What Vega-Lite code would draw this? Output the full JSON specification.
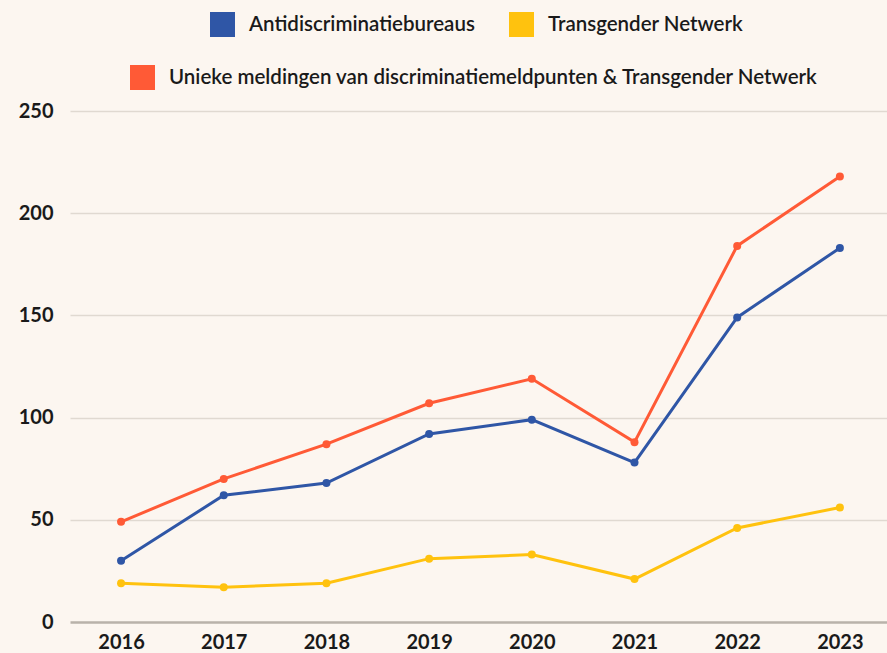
{
  "$schema": "https://vega.github.io/schema/vega-lite/v6.json",
  "width": 817,
  "height": 511,
  "autosize": {"type": "none"},
  "padding": {"left": 70, "top": 111, "right": 0, "bottom": 31},
  "background": "#fcf6f0",
  "config": {
    "view": {"stroke": null},
    "font": "Lato"
  },
  "data": {
    "values": [
      {"year": "2016", "series": "Antidiscriminatiebureaus", "value": 30},
      {"year": "2017", "series": "Antidiscriminatiebureaus", "value": 62},
      {"year": "2018", "series": "Antidiscriminatiebureaus", "value": 68},
      {"year": "2019", "series": "Antidiscriminatiebureaus", "value": 92},
      {"year": "2020", "series": "Antidiscriminatiebureaus", "value": 99},
      {"year": "2021", "series": "Antidiscriminatiebureaus", "value": 78},
      {"year": "2022", "series": "Antidiscriminatiebureaus", "value": 149},
      {"year": "2023", "series": "Antidiscriminatiebureaus", "value": 183},
      {"year": "2016", "series": "Transgender Netwerk", "value": 19},
      {"year": "2017", "series": "Transgender Netwerk", "value": 17},
      {"year": "2018", "series": "Transgender Netwerk", "value": 19},
      {"year": "2019", "series": "Transgender Netwerk", "value": 31},
      {"year": "2020", "series": "Transgender Netwerk", "value": 33},
      {"year": "2021", "series": "Transgender Netwerk", "value": 21},
      {"year": "2022", "series": "Transgender Netwerk", "value": 46},
      {"year": "2023", "series": "Transgender Netwerk", "value": 56},
      {"year": "2016", "series": "Unieke meldingen van discriminatiemeldpunten & Transgender Netwerk", "value": 49},
      {"year": "2017", "series": "Unieke meldingen van discriminatiemeldpunten & Transgender Netwerk", "value": 70},
      {"year": "2018", "series": "Unieke meldingen van discriminatiemeldpunten & Transgender Netwerk", "value": 87},
      {"year": "2019", "series": "Unieke meldingen van discriminatiemeldpunten & Transgender Netwerk", "value": 107},
      {"year": "2020", "series": "Unieke meldingen van discriminatiemeldpunten & Transgender Netwerk", "value": 119},
      {"year": "2021", "series": "Unieke meldingen van discriminatiemeldpunten & Transgender Netwerk", "value": 88},
      {"year": "2022", "series": "Unieke meldingen van discriminatiemeldpunten & Transgender Netwerk", "value": 184},
      {"year": "2023", "series": "Unieke meldingen van discriminatiemeldpunten & Transgender Netwerk", "value": 218}
    ]
  },
  "encoding": {
    "x": {
      "field": "year",
      "type": "ordinal",
      "scale": {"type": "point", "padding": 0.478, "align": 0.52},
      "axis": {
        "title": null,
        "labelAngle": 0,
        "domain": false,
        "ticks": false,
        "grid": false,
        "labelPadding": 10,
        "labelFontSize": 20,
        "labelFontWeight": "bold",
        "labelColor": "#1a1a1a",
        "labelFont": "Lato"
      }
    },
    "y": {
      "field": "value",
      "type": "quantitative",
      "scale": {"domain": [0, 250], "nice": false},
      "axis": {
        "title": null,
        "values": [0, 50, 100, 150, 200, 250],
        "domain": false,
        "ticks": false,
        "labelPadding": 17,
        "labelFontSize": 20,
        "labelFontWeight": "bold",
        "labelColor": "#1a1a1a",
        "labelFont": "Lato",
        "gridColor": {"condition": {"test": "datum.value === 0", "value": "#b9b2aa"}, "value": "#e0d9d1"},
        "gridWidth": {"condition": {"test": "datum.value === 0", "value": 2.5}, "value": 1.5}
      }
    }
  },
  "layer": [
    {
      "transform": [{"filter": "datum.series !== 'Unieke meldingen van discriminatiemeldpunten & Transgender Netwerk'"}],
      "encoding": {
        "color": {
          "field": "series",
          "type": "nominal",
          "scale": {"domain": ["Antidiscriminatiebureaus", "Transgender Netwerk"], "range": ["#2f56a6", "#ffc20e"]},
          "legend": {
            "orient": "none",
            "legendX": 140,
            "legendY": -99,
            "direction": "horizontal",
            "title": null,
            "padding": 0,
            "symbolType": "square",
            "symbolSize": 625,
            "symbolStrokeWidth": 0,
            "symbolOpacity": 1,
            "labelFontSize": 20.5,
            "labelOffset": 14,
            "columnPadding": 34,
            "labelFont": "Lato",
            "labelFontWeight": 600,
            "labelColor": "#1a1a1a",
            "labelLimit": 900,
            "encode": {
              "symbols": {
                "update": {
                  "fill": [{"test": "datum.value === 'Antidiscriminatiebureaus'", "value": "#2f56a6"}, {"value": "#ffc20e"}]
                }
              }
            }
          }
        }
      },
      "layer": [
        {"mark": {"type": "line", "strokeWidth": 3}},
        {"mark": {"type": "point", "filled": true, "size": 64, "opacity": 1}}
      ]
    },
    {
      "transform": [{"filter": "datum.series === 'Unieke meldingen van discriminatiemeldpunten & Transgender Netwerk'"}],
      "encoding": {
        "color": {
          "field": "series",
          "type": "nominal",
          "scale": {"domain": ["Unieke meldingen van discriminatiemeldpunten & Transgender Netwerk"], "range": ["#ff5a36"]},
          "legend": {
            "orient": "none",
            "legendX": 60,
            "legendY": -46,
            "direction": "horizontal",
            "title": null,
            "padding": 0,
            "symbolType": "square",
            "symbolSize": 625,
            "symbolStrokeWidth": 0,
            "symbolOpacity": 1,
            "labelFontSize": 20.5,
            "labelOffset": 14,
            "labelFont": "Lato",
            "labelFontWeight": 600,
            "labelColor": "#1a1a1a",
            "labelLimit": 900,
            "encode": {
              "symbols": {
                "update": {
                  "fill": {"value": "#ff5a36"}
                }
              }
            }
          }
        }
      },
      "layer": [
        {"mark": {"type": "line", "strokeWidth": 3}},
        {"mark": {"type": "point", "filled": true, "size": 64, "opacity": 1}}
      ]
    }
  ],
  "resolve": {"scale": {"color": "independent"}}
}
